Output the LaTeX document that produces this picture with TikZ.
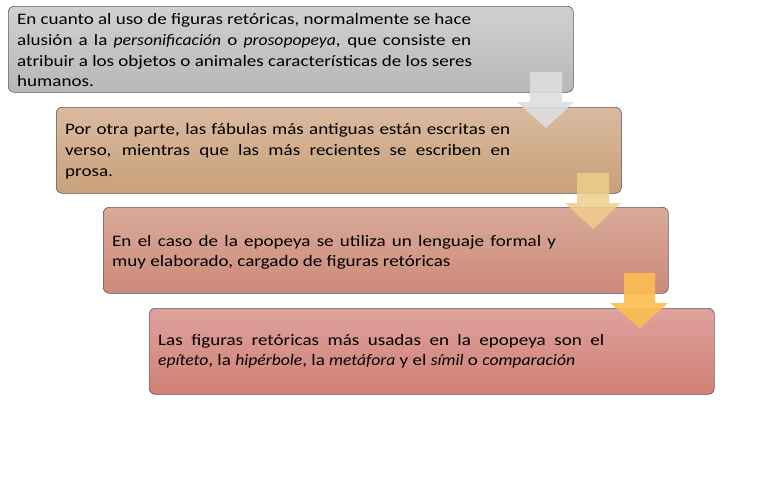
\documentclass[tikz,border=0pt]{standalone}
\usepackage{fontspec}
\setmainfont{Carlito}[FakeStretch=1.19,ItalicFeatures={FakeStretch=1.1}]
\begin{document}
\begin{tikzpicture}[x=1pt,y=-1pt,
  box/.style={draw=black!65,line width=0.6pt,rounded corners=6pt,anchor=north west,
    minimum width=565pt,minimum height=86pt,inner sep=0pt},
  txt/.style={anchor=base west,inner sep=0pt,font=\fontsize{16}{20}\selectfont},
  arr/.style={draw=none}]
\useasboundingbox (0,0) rectangle (768,480);
\fill[white] (0,0) rectangle (768,480);
% boxes
\node[box,top color={rgb,255:red,208;green,208;blue,208},bottom color={rgb,255:red,184;green,184;blue,184}] (b1) at (8,6) {};
\node[box,top color={rgb,255:red,218;green,186;blue,160},bottom color={rgb,255:red,200;green,160;blue,122}] (b2) at (56,107) {};
\node[box,top color={rgb,255:red,218;green,170;blue,154},bottom color={rgb,255:red,204;green,138;blue,122}] (b3) at (103,207) {};
\node[box,top color={rgb,255:red,222;green,162;blue,156},bottom color={rgb,255:red,208;green,128;blue,118}] (b4) at (149,308) {};
% text box 1
\node[txt] (t1a) at (17,24) {\makebox[454pt][s]{En cuanto al uso de figuras retóricas, normalmente se hace}};
\node[txt] (t1b) at (17,45) {\makebox[454pt][s]{alusión a la \textit{personificación} o \textit{prosopopeya}, que consiste en}};
\node[txt] (t1c) at (17,66) {\makebox[455pt][s]{atribuir a los objetos o animales características de los seres}};
\node[txt] (t1d) at (17,86.5) {humanos.};
% text box 2
\node[txt] (t2a) at (65,134) {\makebox[445pt][s]{Por otra parte, las fábulas más antiguas están escritas en}};
\node[txt] (t2b) at (65,155) {\makebox[445pt][s]{verso, mientras que las más recientes se escriben en}};
\node[txt] (t2c) at (65,176.5) {prosa.};
% text box 3
\node[txt] (t3a) at (112,246) {\makebox[444pt][s]{En el caso de la epopeya se utiliza un lenguaje formal y}};
\node[txt] (t3b) at (112,266) {muy elaborado, cargado de figuras retóricas};
% text box 4
\node[txt] (t4a) at (158,345) {\makebox[446pt][s]{Las figuras retóricas más usadas en la epopeya son el}};
\node[txt] (t4b) at (158,365) {\textit{epíteto}, la \textit{hipérbole}, la \textit{metáfora} y el \textit{símil} o \textit{comparación}};
% arrows
\fill[fill={rgb,255:red,222;green,222;blue,222},opacity=0.9]
  (530,72) -- (562,72) -- (562,102) -- (574,102) -- (546,128) -- (517,102) -- (530,102) -- cycle;
\fill[fill={rgb,255:red,238;green,206;blue,140},opacity=0.85]
  (577,173) -- (609,173) -- (609,203) -- (621,203) -- (593,229) -- (565,203) -- (577,203) -- cycle;
\fill[fill={rgb,255:red,252;green,190;blue,80},opacity=0.9]
  (624,273) -- (655,273) -- (655,303) -- (668,303) -- (640,328) -- (610,303) -- (624,303) -- cycle;
\end{tikzpicture}
\end{document}
